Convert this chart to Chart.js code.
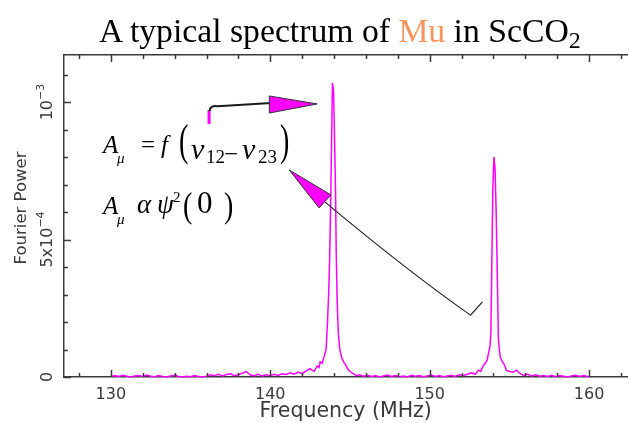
<!DOCTYPE html>
<html>
<head>
<meta charset="utf-8">
<script src="https://cdn.jsdelivr.net/npm/chart.js@4/dist/chart.umd.min.js"></script>
<style>
  html, body { margin: 0; padding: 0; background: #fff; overflow: hidden; }
  #wrap { position: relative; width: 629px; height: 423px; }
  canvas { position: absolute; left: 0; top: 0; }
  #title {
    position: absolute; left: 99px; top: 14px;
    font: 33.7px 'Liberation Serif', 'Times New Roman', serif;
    line-height: 33px; white-space: nowrap; color: #000;
  }
  #title .mu { color: #f7955e; }
  #title sub { font-size: 24px; vertical-align: -6px; line-height: 0; }
</style>
</head>
<body>
<div id="wrap">
  <canvas id="c" width="629" height="423"></canvas>
  <div id="title">A typical spectrum of <span class="mu">Mu</span> in ScCO<sub>2</sub></div>
</div>
<script>
// Muonium precession spectrum: frequency (MHz) vs Fourier power (in units of 1e-4)
const frequency = [
  130.00, 130.25, 130.50, 130.75, 131.00, 131.25, 131.50, 131.75, 132.00, 132.25,
  132.50, 132.75, 133.00, 133.25, 133.50, 133.75, 134.00, 134.25, 134.50, 134.75,
  135.00, 135.25, 135.50, 135.75, 136.00, 136.25, 136.50, 136.75, 137.00, 137.25,
  137.50, 137.75, 138.00, 138.25, 138.50, 138.75, 139.00, 139.25, 139.50, 139.75,
  140.00, 140.25, 140.50, 140.75, 141.00, 141.25, 141.50, 141.75, 142.00, 142.25,
  142.50, 142.75,
  142.94, 143.06, 143.13, 143.25, 143.38, 143.50, 143.59, 143.66, 143.72, 143.78,
  143.84, 143.90, 143.97, 144.03, 144.09, 144.14, 144.20, 144.27, 144.36, 144.48,
  144.60, 144.72, 144.85, 145.00, 145.20, 145.40,
  145.60, 145.85, 146.10, 146.35, 146.60, 146.85, 147.10, 147.35, 147.60, 147.85,
  148.10, 148.35, 148.60, 148.85, 149.10, 149.35, 149.60, 149.85, 150.10, 150.35,
  150.60, 150.85, 151.10, 151.35, 151.60, 151.85, 152.10, 152.35,
  152.63, 152.85, 153.06, 153.20, 153.31, 153.48, 153.60, 153.69, 153.78, 153.84,
  153.89, 153.96, 154.03, 154.10, 154.17, 154.24, 154.31, 154.42, 154.52, 154.63,
  154.72, 154.81, 155.00, 155.25, 155.44, 155.69,
  155.90, 156.15, 156.40, 156.65, 156.90, 157.15, 157.40, 157.65, 157.90, 158.15,
  158.40, 158.65, 158.90, 159.15, 159.40, 159.65, 159.90, 160.00
];
const power = [
  0.02, 0.05, 0.02, 0.06, 0.03, 0.00, 0.04, 0.05, 0.02, 0.07,
  0.03, 0.01, 0.05, 0.02, 0.00, 0.04, 0.06, 0.02, 0.00, 0.03,
  0.01, 0.05, 0.02, 0.00, 0.03, 0.08, 0.05, 0.10, 0.04, 0.09,
  0.12, 0.05, 0.08, 0.14, 0.20, 0.07, 0.05, 0.10, 0.04, 0.08,
  0.05, 0.10, 0.06, 0.12, 0.09, 0.15, 0.10, 0.18, 0.12, 0.22,
  0.30, 0.20,
  0.40, 0.35, 0.55, 0.50, 0.75, 1.00, 2.00, 3.00, 4.20, 6.00,
  8.30, 10.70, 10.40, 8.70, 6.90, 4.40, 2.70, 1.60, 1.00, 0.70,
  0.55, 0.45, 0.30, 0.20, 0.12, 0.05,
  0.08, 0.03, 0.06, 0.02, 0.05, 0.00, 0.04, 0.07, 0.02, 0.05,
  0.01, 0.04, 0.00, 0.06, 0.03, 0.05, 0.01, 0.04, 0.07, 0.02,
  0.05, 0.01, 0.04, 0.06, 0.02, 0.08, 0.05, 0.10,
  0.15, 0.10, 0.25, 0.20, 0.36, 0.50, 0.60, 0.87, 1.10, 1.60,
  3.80, 6.80, 8.00, 7.60, 6.00, 3.80, 1.35, 0.73, 0.60, 0.50,
  0.40, 0.25, 0.20, 0.18, 0.25, 0.12,
  0.06, 0.10, 0.04, 0.08, 0.03, 0.05, 0.02, 0.06, 0.01, 0.05,
  0.03, 0.00, 0.04, 0.06, 0.02, 0.05, 0.02, 0.00
];

// axis ticks
const xTickValues = [128, 130, 132, 134, 136, 138, 140, 142, 144, 146, 148, 150, 152, 154, 156, 158, 160, 162];
const xLabelValues = [130, 140, 150, 160];
const yTickValues = [0, 1, 2, 3, 4, 5, 6, 7, 8, 9, 10, 11];
const yTickLabels = [
  { value: 0,  base: '0',    exp: '' },
  { value: 5,  base: '5x10', exp: '\u22124' },
  { value: 10, base: '10',   exp: '\u22123' }
];

const X_MIN = 127.06, X_MAX = 162.4, Y_MIN = 0, Y_MAX = 11.71;
const AXIS_COLOR = '#3a3a3a';
const SANS = "'DejaVu Sans', 'Liberation Sans', sans-serif";
const SERIF = "'Liberation Serif', 'Times New Roman', serif";
const MAGENTA = '#ff00ff';

// callouts, anchored in axis units (MHz, 1e-4)
const callouts = {
  upper: {
    stub: [[136.16, 9.20], [136.16, 9.71]],
    curve: { start: [136.19, 9.67], ctrl: [136.22, 9.89], mid: [136.69, 9.85], end: [140.06, 9.96] },
    head: [[139.94, 10.22], [139.94, 9.60], [142.94, 9.93]]
  },
  lower: {
    head: [[141.19, 7.53], [143.06, 6.15], [143.81, 6.62]],
    line: { start: [143.44, 6.36], ctrl: [148.69, 3.82], end: [152.56, 2.25], hook: [153.31, 2.73] }
  }
};

// formula runs: [text, style, size(px), dx, dy, vertical stretch] relative to an anchor in axis units
const formulas = [
  { at: [129.5, 8.15], runs: [
    ['A', 'italic', 25, 0, 0], ['\u03bc', 'italic', 15, 14, 10],
    ['=', '', 25, 38, 0], ['f', 'italic', 25, 58, 0],
    ['(', '', 28, 76, 2, 1.55], ['\u03bd', 'italic', 30, 88, 6], ['12', '', 19, 103, 10],
    ['\u2212', '', 25, 121, 9], ['\u03bd', 'italic', 30, 139, 6], ['23', '', 19, 155, 10],
    [')', '', 28, 177, 2, 1.55]
  ]},
  { at: [129.5, 5.93], runs: [
    ['A', 'italic', 25, 0, 0], ['\u03bc', 'italic', 15, 14, 10],
    ['\u03b1', 'italic', 27, 34, -1], ['\u03c8', 'italic', 27, 54, -1], ['2', '', 15, 70, -12],
    ['(', '', 28, 80, 3, 1.3], ['0', '', 31, 94, -1], [')', '', 28, 121, 3, 1.3]
  ]}
];

const framePlugin = {
  id: 'frame',
  afterDatasetsDraw(chart) {
    const { ctx, scales: { x, y } } = chart;
    const P = (pt) => [x.getPixelForValue(pt[0]), y.getPixelForValue(pt[1])];
    ctx.save();

    // formulas
    ctx.fillStyle = '#000';
    ctx.textBaseline = 'alphabetic';
    ctx.textAlign = 'left';
    formulas.forEach(f => {
      const [ax, ay] = P(f.at);
      f.runs.forEach(([t, st, sz, dx, dy, sy]) => {
        ctx.font = `${st} ${sz}px ${SERIF}`;
        ctx.save();
        ctx.translate(ax + dx, ay + dy);
        if (sy) ctx.scale(1, sy);
        ctx.fillText(t, 0, 0);
        ctx.restore();
      });
    });

    // upper callout
    const u = callouts.upper;
    let a = P(u.stub[0]), b = P(u.stub[1]);
    ctx.strokeStyle = MAGENTA; ctx.lineWidth = 3;
    ctx.beginPath(); ctx.moveTo(a[0], a[1]); ctx.lineTo(b[0], b[1]); ctx.stroke();
    ctx.strokeStyle = '#1a1a1a'; ctx.lineWidth = 2;
    const s = P(u.curve.start), c = P(u.curve.ctrl), m = P(u.curve.mid), e = P(u.curve.end);
    ctx.beginPath(); ctx.moveTo(s[0], s[1]); ctx.quadraticCurveTo(c[0], c[1], m[0], m[1]); ctx.lineTo(e[0], e[1]); ctx.stroke();
    drawHead(ctx, u.head.map(P));

    // lower callout
    const l = callouts.lower;
    const ls = P(l.line.start), lc = P(l.line.ctrl), le = P(l.line.end), lh = P(l.line.hook);
    ctx.strokeStyle = '#222'; ctx.lineWidth = 1.2;
    ctx.beginPath(); ctx.moveTo(ls[0], ls[1]); ctx.quadraticCurveTo(lc[0], lc[1], le[0], le[1]); ctx.lineTo(lh[0], lh[1]); ctx.stroke();
    drawHead(ctx, l.head.map(P));
    ctx.restore();
  },
  afterDraw(chart) {
    const { ctx, chartArea: ca, scales: { x, y } } = chart;
    ctx.save();
    ctx.strokeStyle = AXIS_COLOR;
    ctx.lineWidth = 1.5;
    ctx.beginPath();
    xTickValues.forEach(v => {
      const px = Math.round(x.getPixelForValue(v)) + 0.5;
      const len = v % 10 === 0 ? 7 : 4;
      ctx.moveTo(px, ca.bottom); ctx.lineTo(px, ca.bottom - len);
      ctx.moveTo(px, ca.top); ctx.lineTo(px, ca.top + len);
    });
    yTickValues.forEach(v => {
      const py = Math.round(y.getPixelForValue(v)) + 0.5;
      const len = v % 5 === 0 ? 7 : 4;
      ctx.moveTo(ca.left, py); ctx.lineTo(ca.left + len, py);
    });
    ctx.stroke();

    // rotated y tick labels with exponents
    ctx.fillStyle = AXIS_COLOR;
    ctx.textBaseline = 'alphabetic';
    ctx.textAlign = 'left';
    yTickLabels.forEach(t => {
      const py = y.getPixelForValue(t.value);
      ctx.font = `16px ${SANS}`;
      const wb = ctx.measureText(t.base).width;
      ctx.font = `11px ${SANS}`;
      const we = t.exp ? ctx.measureText(t.exp).width : 0;
      const total = wb + we;
      ctx.save();
      ctx.translate(ca.left - 12, py);
      ctx.rotate(-Math.PI / 2);
      ctx.font = `16px ${SANS}`;
      ctx.fillText(t.base, -total / 2, 0);
      if (t.exp) {
        ctx.font = `11px ${SANS}`;
        ctx.fillText(t.exp, -total / 2 + wb, -8);
      }
      ctx.restore();
    });

    // y axis title
    ctx.save();
    ctx.translate(26, (ca.top + ca.bottom) / 2 - 8);
    ctx.rotate(-Math.PI / 2);
    ctx.textAlign = 'center';
    ctx.font = `16.5px ${SANS}`;
    ctx.fillText('Fourier Power', 0, 0);
    ctx.restore();
    ctx.restore();
  }
};

function drawHead(ctx, pts) {
  ctx.beginPath();
  ctx.moveTo(pts[0][0], pts[0][1]);
  ctx.lineTo(pts[1][0], pts[1][1]);
  ctx.lineTo(pts[2][0], pts[2][1]);
  ctx.closePath();
  ctx.fillStyle = MAGENTA;
  ctx.fill();
  ctx.strokeStyle = '#333';
  ctx.lineWidth = 1;
  ctx.stroke();
}

Chart.defaults.font.family = SANS;

new Chart(document.getElementById('c'), {
  type: 'line',
  data: {
    datasets: [{
      data: frequency.map((f, i) => ({ x: f, y: power[i] })),
      borderColor: MAGENTA,
      borderWidth: 1.5,
      pointRadius: 0,
      tension: 0,
      clip: false
    }]
  },
  options: {
    responsive: false,
    animation: false,
    layout: { padding: { top: 55, left: 0, right: 0, bottom: 0 } },
    plugins: { legend: { display: false }, tooltip: { enabled: false } },
    scales: {
      x: {
        type: 'linear', position: 'bottom', min: X_MIN, max: X_MAX,
        afterBuildTicks: s => { s.ticks = xTickValues.map(v => ({ value: v })); },
        afterFit: s => { s.height = 46; },
        grid: { drawOnChartArea: false, drawTicks: false },
        border: { display: true, color: AXIS_COLOR, width: 1.5 },
        ticks: {
          autoSkip: false, maxRotation: 0, minRotation: 0, padding: 8,
          color: AXIS_COLOR, font: { size: 16 },
          callback: v => xLabelValues.includes(v) ? String(v) : ''
        },
        title: {
          display: true, text: 'Frequency (MHz)', color: AXIS_COLOR,
          font: { size: 20.5 }, padding: { top: 0, bottom: -1 }
        }
      },
      xTop: {
        type: 'linear', position: 'top', min: X_MIN, max: X_MAX,
        afterFit: s => { s.height = 0; },
        grid: { drawOnChartArea: false, drawTicks: false },
        border: { display: true, color: AXIS_COLOR, width: 1.5 },
        ticks: { display: false }
      },
      y: {
        type: 'linear', position: 'left', min: Y_MIN, max: Y_MAX,
        afterBuildTicks: s => { s.ticks = yTickValues.map(v => ({ value: v })); },
        afterFit: s => { s.width = 64; },
        grid: { drawOnChartArea: false, drawTicks: false },
        border: { display: true, color: AXIS_COLOR, width: 1.5 },
        ticks: { display: false }
      }
    }
  },
  plugins: [framePlugin]
});
</script>
</body>
</html>
